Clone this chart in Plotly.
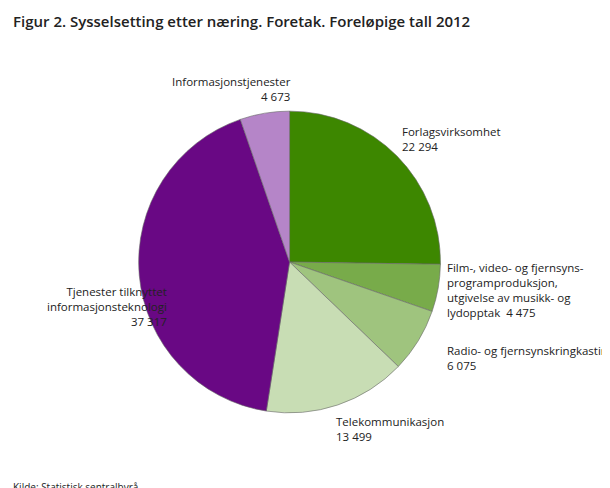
import plotly.graph_objects as go

labels = ["Forlagsvirksomhet",
          "Film-, video- og fjernsyns-<br>programproduksjon,<br>utgivelse av musikk- og<br>lydopptak",
          "Radio- og fjernsynskringkasting",
          "Telekommunikasjon",
          "Tjenester tilknyttet<br>informasjonsteknologi",
          "Informasjonstjenester"]
values = [22294, 4475, 6075, 13499, 37317, 4673]
value_text = ["22 294", "4 475", "6 075", "13 499", "37 317", "4 673"]
colors = ["#3d8700", "#78ab4a", "#9fc47e", "#c8ddb4", "#690884", "#b585c8"]

fig = go.Figure(go.Pie(
    labels=labels, values=values, sort=False, direction="clockwise", rotation=0,
    marker=dict(colors=colors, line=dict(color="#666", width=0.6)),
    textinfo="none", hoverinfo="label+value", showlegend=False,
    domain=dict(x=[0.22, 0.728], y=[0.162, 0.797]),
))

# label placement (paper coords, anchor)
pos = [(403, 131, "left"), (449, 282, "left"), (449, 350, "left"),
       (335, 421, "left"), (165, 298, "right"), (293, 81, "right")]
anns = []
for i, (px, py, anchor) in enumerate(pos):
    if i == 1:
        txt = labels[i] + "  " + value_text[i]
    else:
        txt = labels[i] + "<br>" + value_text[i]
    anns.append(dict(x=px / 610, y=1 - py / 488, xref="paper", yref="paper",
                     text=txt, showarrow=False, xanchor=anchor, yanchor="middle",
                     align=anchor, font=dict(size=11.5, color="#222")))
anns.append(dict(x=3 / 610, y=1 - 479 / 488, xref="paper", yref="paper",
                 text="Kilde: Statistisk sentralbyrå.", showarrow=False,
                 xanchor="left", yanchor="middle", font=dict(size=10, color="#222")))
anns.append(dict(x=3 / 610, y=1 - 13 / 488, xref="paper", yref="paper",
                 text="Figur 2. Sysselsetting etter næring. Foretak. Foreløpige tall 2012",
                 showarrow=False, xanchor="left", yanchor="middle",
                 font=dict(size=15, color="#222", family="Open Sans SemiBold, Open Sans")))

fig.update_layout(autosize=True, margin=dict(l=0, r=0, t=0, b=0),
                  paper_bgcolor="white", font=dict(family="Open Sans"),
                  annotations=anns)
fig.write_html("out.html", default_width="100%", default_height="100vh",
               config={"responsive": True})
